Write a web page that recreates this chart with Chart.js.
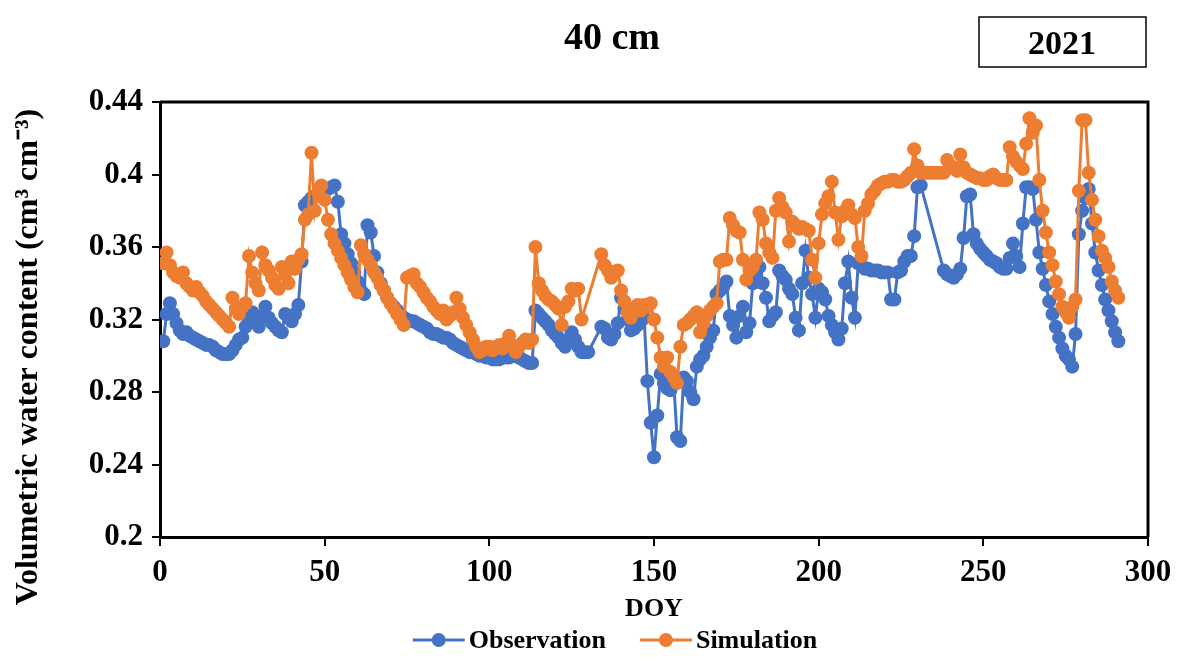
<!DOCTYPE html>
<html>
<head>
<meta charset="utf-8">
<script src="https://cdn.jsdelivr.net/npm/chart.js@4.4.1/dist/chart.umd.min.js"></script>
<style>
  html, body { margin: 0; padding: 0; background: #fff; }
  #wrap { width: 1183px; height: 665px; position: relative; }
</style>
</head>
<body>
<div id="wrap"><canvas id="vwcChart"></canvas></div>
<script>
// Day of year, 1..291
const doy = [
  1,2,3,4,5,6,7,8,9,10,11,12,13,14,15,16,17,18,19,20,21,22,23,24,25,26,27,28,29,30,
  31,32,33,34,35,36,37,38,39,40,41,42,43,44,45,46,47,48,49,50,51,52,53,54,55,56,57,58,59,60,
  61,62,63,64,65,66,67,68,69,70,71,72,73,74,75,76,77,78,79,80,81,82,83,84,85,86,87,88,89,90,
  91,92,93,94,95,96,97,98,99,100,101,102,103,104,105,106,107,108,109,110,111,112,113,114,115,116,117,118,119,120,
  121,122,123,124,125,126,127,128,129,130,131,132,133,134,135,136,137,138,139,140,141,142,143,144,145,146,147,148,149,150,
  151,152,153,154,155,156,157,158,159,160,161,162,163,164,165,166,167,168,169,170,171,172,173,174,175,176,177,178,179,180,
  181,182,183,184,185,186,187,188,189,190,191,192,193,194,195,196,197,198,199,200,201,202,203,204,205,206,207,208,209,210,
  211,212,213,214,215,216,217,218,219,220,221,222,223,224,225,226,227,228,229,230,231,232,233,234,235,236,237,238,239,240,
  241,242,243,244,245,246,247,248,249,250,251,252,253,254,255,256,257,258,259,260,261,262,263,264,265,266,267,268,269,270,
  271,272,273,274,275,276,277,278,279,280,281,282,283,284,285,286,287,288,289,290,291
];

// Observed volumetric water content (null = no reading)
const observation = [
  0.308,0.323,0.329,0.323,0.318,0.314,0.312,0.313,0.311,0.310,
  0.309,0.308,0.307,0.306,0.306,0.305,0.303,0.302,0.301,0.301,
  0.301,0.303,0.306,0.309,0.310,0.316,0.320,0.324,0.319,0.316,
  0.322,0.327,0.321,0.318,0.316,0.314,0.313,0.323,0.321,0.319,
  0.323,0.328,0.352,0.383,0.385,0.387,0.388,0.389,0.390,0.391,
  0.392,0.393,0.394,0.385,0.367,0.362,0.356,0.351,0.346,0.341,
  0.336,0.334,0.372,0.368,0.355,0.346,0.340,0.336,0.332,0.329,
  0.327,0.325,0.323,0.321,0.320,0.319,0.319,0.318,0.317,0.316,
  0.315,0.313,0.312,0.312,0.311,0.310,0.310,0.309,0.307,0.306,
  0.305,0.304,0.303,0.302,0.302,0.301,0.300,0.300,0.299,0.299,
  0.298,0.298,0.298,0.299,0.299,0.299,0.300,0.300,0.299,0.298,
  0.297,0.296,0.296,0.325,0.323,0.321,0.319,0.317,0.314,0.312,
  0.310,0.307,0.305,0.309,0.313,0.309,0.305,0.302,0.302,0.302,
  null,null,null,0.316,0.315,0.310,0.309,0.312,0.318,0.332,
  0.326,0.320,0.314,0.315,0.317,0.319,0.321,0.286,0.263,0.244,
  0.267,0.290,0.285,0.282,0.281,0.285,0.255,0.253,0.288,0.286,
  0.280,0.276,0.294,0.298,0.300,0.305,0.310,0.314,0.334,0.336,
  0.338,0.341,0.322,0.317,0.310,0.322,0.327,0.313,0.318,0.340,
  0.345,0.349,0.340,0.332,0.319,0.322,0.324,0.347,0.344,0.342,
  0.337,0.334,0.321,0.314,0.340,0.358,0.343,0.334,0.321,0.337,
  0.335,0.331,0.322,0.317,0.313,0.309,0.315,0.340,0.352,0.332,
  0.321,0.351,0.350,0.348,0.348,0.347,0.347,0.347,0.346,0.346,
  0.346,0.331,0.331,0.346,0.347,0.352,0.355,0.355,0.366,0.393,
  0.394,null,null,null,null,null,null,0.347,0.345,0.344,
  0.343,0.345,0.348,0.365,0.388,0.389,0.367,0.362,0.359,0.357,
  0.355,0.353,0.352,0.351,0.349,0.348,0.348,0.354,0.362,0.355,
  0.349,0.373,0.393,0.393,0.392,0.375,0.357,0.348,0.339,0.330,
  0.323,0.316,0.310,0.304,0.300,0.298,0.294,0.312,0.367,0.380,
  0.387,0.392,0.373,0.357,0.347,0.339,0.331,0.325,0.319,0.313,
  0.308
];

// Simulated volumetric water content
const simulation = [
  0.351,0.357,0.350,0.346,0.344,0.343,0.346,0.340,0.338,0.336,
  0.338,0.335,0.333,0.330,0.328,0.326,0.324,0.322,0.320,0.318,
  0.316,0.332,0.326,0.323,0.327,0.329,0.355,0.346,0.340,0.336,
  0.357,0.350,0.347,0.343,0.339,0.337,0.349,0.345,0.340,0.352,
  0.348,0.353,0.356,0.375,0.378,0.412,0.380,0.390,0.394,0.386,
  0.375,0.367,0.362,0.358,0.354,0.350,0.346,0.342,0.338,0.335,
  0.361,0.356,0.353,0.350,0.346,0.343,0.339,0.336,0.332,0.329,
  0.326,0.323,0.320,0.317,0.343,0.344,0.345,0.340,0.338,0.335,
  0.332,0.330,0.327,0.325,0.323,0.325,0.320,0.322,0.324,0.332,
  0.326,0.321,0.317,0.313,0.309,0.305,0.302,0.303,0.305,0.305,
  0.303,0.305,0.306,0.304,0.307,0.311,0.306,0.302,0.305,0.307,
  0.309,0.307,0.309,0.360,0.340,0.336,0.333,0.331,0.330,0.328,
  0.326,0.317,0.327,0.330,0.337,0.336,0.337,0.320,null,null,
  null,null,null,0.356,0.350,0.347,0.343,0.346,0.347,0.336,
  0.330,0.324,0.321,0.325,0.328,0.325,0.328,0.327,0.329,0.320,
  0.310,0.299,0.294,0.299,0.291,0.288,0.285,0.305,0.317,0.318,
  0.320,0.322,0.324,0.313,0.318,0.322,0.325,0.327,0.329,0.352,
  0.353,0.353,0.376,0.372,0.369,0.368,0.353,0.342,0.347,0.349,
  0.353,0.379,0.375,0.362,0.357,0.354,0.380,0.387,0.382,0.379,
  0.363,0.374,0.372,0.370,0.371,0.370,0.369,0.353,0.343,0.362,
  0.378,0.384,0.388,0.396,0.379,0.364,0.377,0.380,0.383,0.378,
  0.376,0.360,0.355,0.380,0.384,0.389,0.391,0.394,0.395,0.396,
  0.396,0.397,0.397,0.396,0.396,0.397,0.399,0.401,0.414,0.405,
  0.401,0.401,0.401,0.401,0.401,0.401,0.401,0.401,0.408,0.405,
  0.404,0.402,0.411,0.404,0.401,0.400,0.399,0.398,0.398,0.397,
  0.397,0.399,0.400,0.398,0.397,0.397,0.397,0.415,0.410,0.407,
  0.405,0.403,0.417,0.431,0.423,0.427,0.397,0.380,0.368,0.357,
  0.350,0.341,0.334,0.327,0.324,0.321,0.327,0.331,0.391,0.430,
  0.430,0.401,0.386,0.375,0.366,0.358,0.354,0.349,0.341,0.336,
  0.332
];

const seriesNames = ['Observation', 'Simulation'];
const seriesColors = ['#4472C4', '#ED7D31'];
const xTicks = [0, 50, 100, 150, 200, 250, 300];
const yTicks = [0.2, 0.24, 0.28, 0.32, 0.36, 0.4, 0.44];

const serif = '"Liberation Serif", "Times New Roman", serif';

function toPoints(values) {
    return doy.map((d, i) => ({ x: d, y: values[i] }));
}

// Title, year box, y title, plot frame and legend
const decorations = {
    id: 'decorations',
    afterDraw(chart) {
        const c = chart.ctx;
        const area = chart.chartArea;
        c.save();

        // frame on top and right
        c.strokeStyle = '#000';
        c.lineWidth = 3;
        c.beginPath();
        c.moveTo(area.left, area.top);
        c.lineTo(area.right, area.top);
        c.lineTo(area.right, area.bottom);
        c.stroke();

        // title
        c.fillStyle = '#000';
        c.textAlign = 'center';
        c.textBaseline = 'middle';
        c.font = 'bold 38px ' + serif;
        c.fillText('40 cm', 612, 39);

        // year box
        c.lineWidth = 1.5;
        c.strokeRect(979, 17, 167, 50);
        c.font = 'bold 34px ' + serif;
        c.fillText('2021', 1062, 45);

        // y axis title (sits lower than the plot centre, as in the original)
        c.save();
        c.translate(29, 357);
        c.rotate(-Math.PI / 2);
        c.font = 'bold 32px ' + serif;
        c.fillText('Volumetric water content (cm³ cm⁻³)', 0, 0);
        c.restore();

        // legend
        c.font = 'bold 26px ' + serif;
        c.textAlign = 'left';
        const lineLen = 52, gapText = 4, gapItem = 34, y = 640;
        const widths = seriesNames.map(n => lineLen + gapText + c.measureText(n).width);
        let x = 615 - (widths[0] + widths[1] + gapItem) / 2;
        seriesNames.forEach((name, i) => {
            c.strokeStyle = seriesColors[i];
            c.fillStyle = seriesColors[i];
            c.lineWidth = 3;
            c.beginPath();
            c.moveTo(x, y);
            c.lineTo(x + lineLen, y);
            c.stroke();
            c.beginPath();
            c.arc(x + lineLen / 2, y, 7, 0, Math.PI * 2);
            c.fill();
            c.fillStyle = '#000';
            c.fillText(name, x + lineLen + gapText, y + 1);
            x += widths[i] + gapItem;
        });
        c.restore();
    }
};

const ctx = document.getElementById('vwcChart').getContext('2d');

new Chart(ctx, {
    type: 'line',
    data: {
        datasets: [{
            label: seriesNames[0],
            data: toPoints(observation),
            borderColor: seriesColors[0],
            backgroundColor: seriesColors[0],
            pointBackgroundColor: seriesColors[0],
            borderWidth: 3,
            pointRadius: 7,
            pointBorderWidth: 0,
            spanGaps: true,
            order: 1
        }, {
            label: seriesNames[1],
            data: toPoints(simulation),
            borderColor: seriesColors[1],
            backgroundColor: seriesColors[1],
            pointBackgroundColor: seriesColors[1],
            borderWidth: 3,
            pointRadius: 7,
            pointBorderWidth: 0,
            spanGaps: true,
            order: 0
        }]
    },
    options: {
        responsive: true,
        maintainAspectRatio: false,
        animation: false,
        layout: { padding: { left: 0, top: 102, right: 35, bottom: 40 } },
        plugins: {
            legend: { display: false },
            tooltip: { enabled: false }
        },
        scales: {
            x: {
                type: 'linear',
                min: 0,
                max: 300,
                afterFit: s => { s.height = 88; },
                afterBuildTicks: s => { s.ticks = xTicks.map(v => ({ value: v })); },
                ticks: {
                    color: '#000',
                    font: { family: serif, size: 31, weight: 'bold' },
                    padding: 8,
                    maxRotation: 0
                },
                grid: {
                    display: true,
                    drawOnChartArea: false,
                    drawTicks: true,
                    tickLength: 9,
                    color: '#000',
                    lineWidth: 2
                },
                border: { display: true, color: '#000', width: 3 },
                title: {
                    display: true,
                    text: 'DOY',
                    color: '#000',
                    font: { family: serif, size: 26, weight: 'bold' },
                    padding: { top: 0, bottom: 0 }
                }
            },
            y: {
                min: 0.2,
                max: 0.44,
                afterFit: s => { s.width = 160; },
                afterBuildTicks: s => { s.ticks = yTicks.map(v => ({ value: v })); },
                ticks: {
                    color: '#000',
                    font: { family: serif, size: 31, weight: 'bold' },
                    padding: 9,
                    callback: v => String(+v.toFixed(2))
                },
                grid: {
                    display: true,
                    drawOnChartArea: false,
                    drawTicks: true,
                    tickLength: 8,
                    color: '#000',
                    lineWidth: 2
                },
                border: { display: true, color: '#000', width: 3 }
            }
        }
    },
    plugins: [decorations]
});
</script>
</body>
</html>
